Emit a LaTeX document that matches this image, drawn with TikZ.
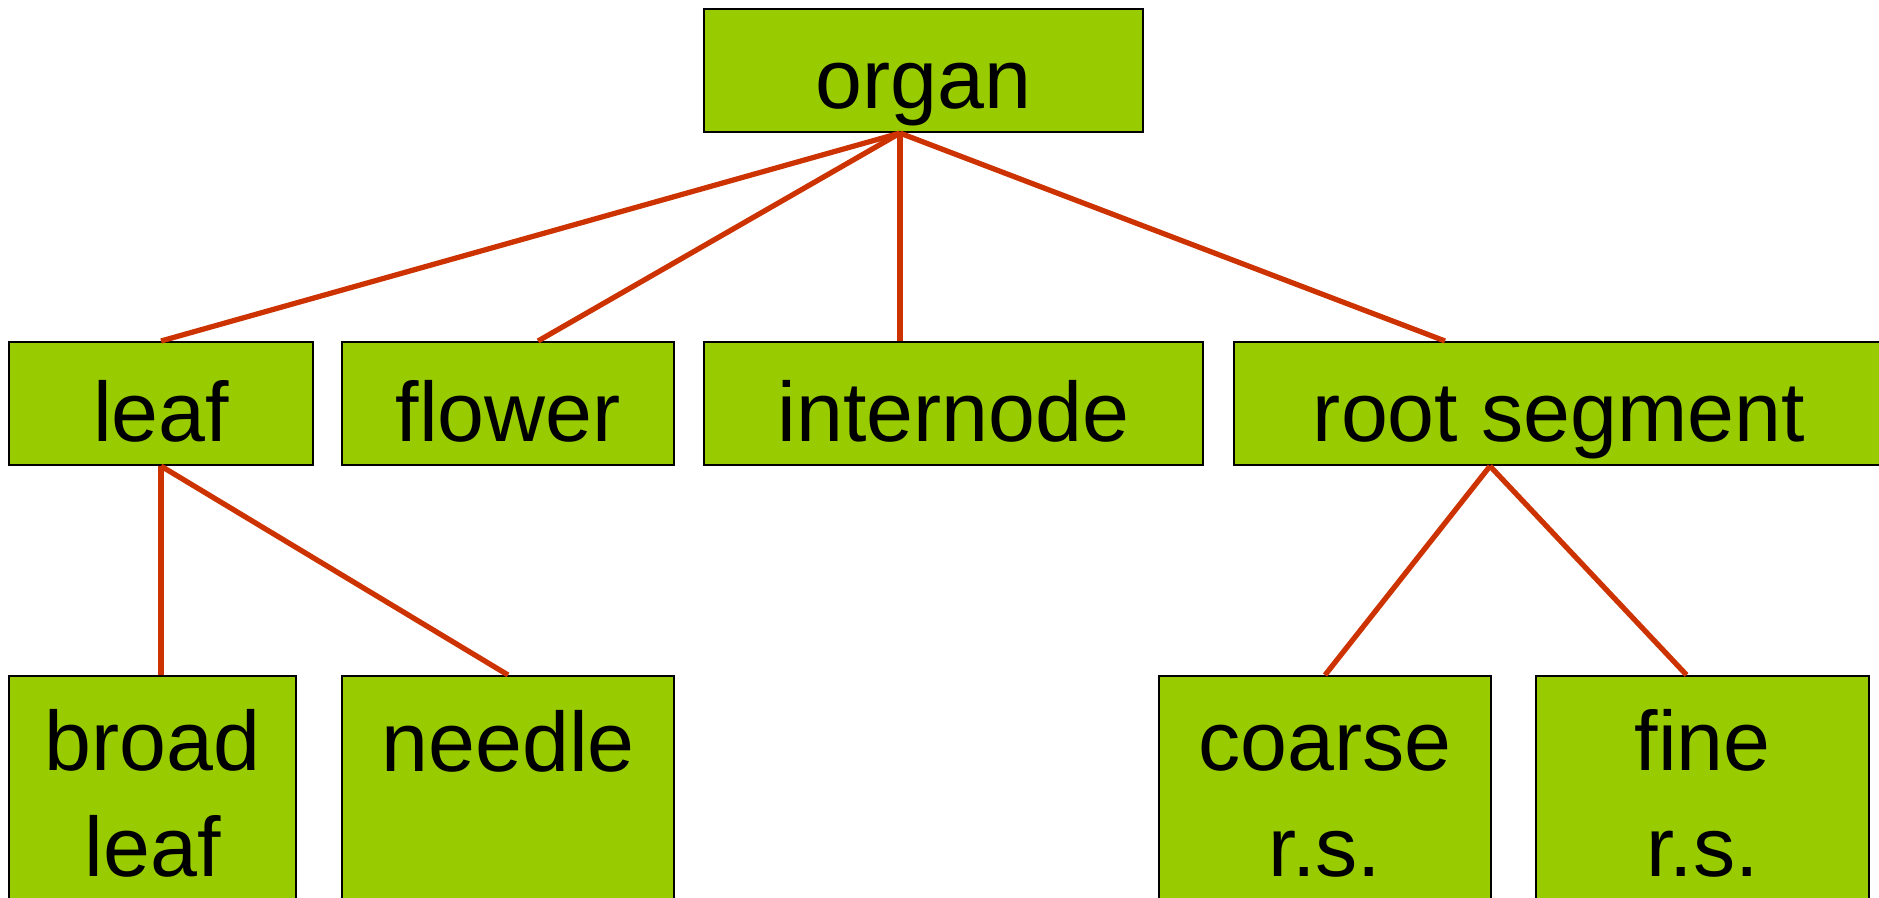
\documentclass[tikz,border=0pt]{standalone}
\usepackage{fontspec}
\setmainfont{Liberation Sans}
\usepackage{xcolor}
\usetikzlibrary{calc}
\definecolor{plant}{HTML}{99CC00}
\definecolor{rust}{HTML}{CC3300}

\tikzset{
 organbox/.style={draw=black,line width=0.6pt,fill=plant,rectangle,anchor=north west,
   inner xsep=0pt,inner ysep=0pt,text height=0.99cm,text depth=0.24cm},
 % two lines: the box sits on the baseline of the lower one
 tallbox/.style={organbox,align=center,text height=2.00cm,text depth=0.65cm},
 onelinebox/.style={organbox,text height=0.95cm,text depth=1.70cm},
 link/.style={rust,line width=1.5pt}
}

\begin{document}
\begin{tikzpicture}[font=\fontsize{24}{30}\selectfont]
\useasboundingbox (0,0) rectangle (18.79,8.97);
\clip (0,0) rectangle (18.79,8.97);
% top level
\node[organbox,minimum width=4.39cm] (organ) at (7.03,8.89) {organ};
% second row
\node[organbox,minimum width=3.04cm] (leaf) at (0.08,5.56) {leaf};
\node[organbox,minimum width=3.32cm] (flower) at (3.41,5.56) {flower};
\node[organbox,minimum width=4.99cm] (internode) at (7.03,5.56) {internode};
\node[organbox,minimum width=6.50cm] (rootseg) at (12.33,5.56) {root segment};
% third row, running off the bottom
\node[tallbox,minimum width=2.87cm] (broad) at (0.08,2.22) {broad\\leaf};
\node[onelinebox,minimum width=3.32cm] (needle) at (3.41,2.22) {needle};
\node[tallbox,minimum width=3.32cm] (coarse) at (11.58,2.22) {coarse\\r.s.};
\node[tallbox,minimum width=3.33cm] (fine) at (15.35,2.22) {fine\\r.s.};
% where the links meet the boxes
\coordinate (hub) at ($(organ.south west)+(1.97,0)$);
\coordinate (flowertop) at ($(flower.north)+(0.30,0)$);
\coordinate (rstop) at ($(rootseg.north west)+(2.12,0)$);
\coordinate (rsfoot) at ($(rootseg.south west)+(2.57,0)$);
\coordinate (finetop) at ($(fine.north)+(-0.16,0)$);
% links
\draw[link] (hub) -- (leaf.north);
\draw[link] (hub) -- (flowertop);
\draw[link] (hub) -- (hub |- internode.north);
\draw[link] (hub) -- (rstop);
\draw[link] (leaf.south) -- (leaf.south |- broad.north);
\draw[link] (leaf.south) -- (needle.north);
\draw[link] (rsfoot) -- (coarse.north);
\draw[link] (rsfoot) -- (finetop);
\end{tikzpicture}
\end{document}
